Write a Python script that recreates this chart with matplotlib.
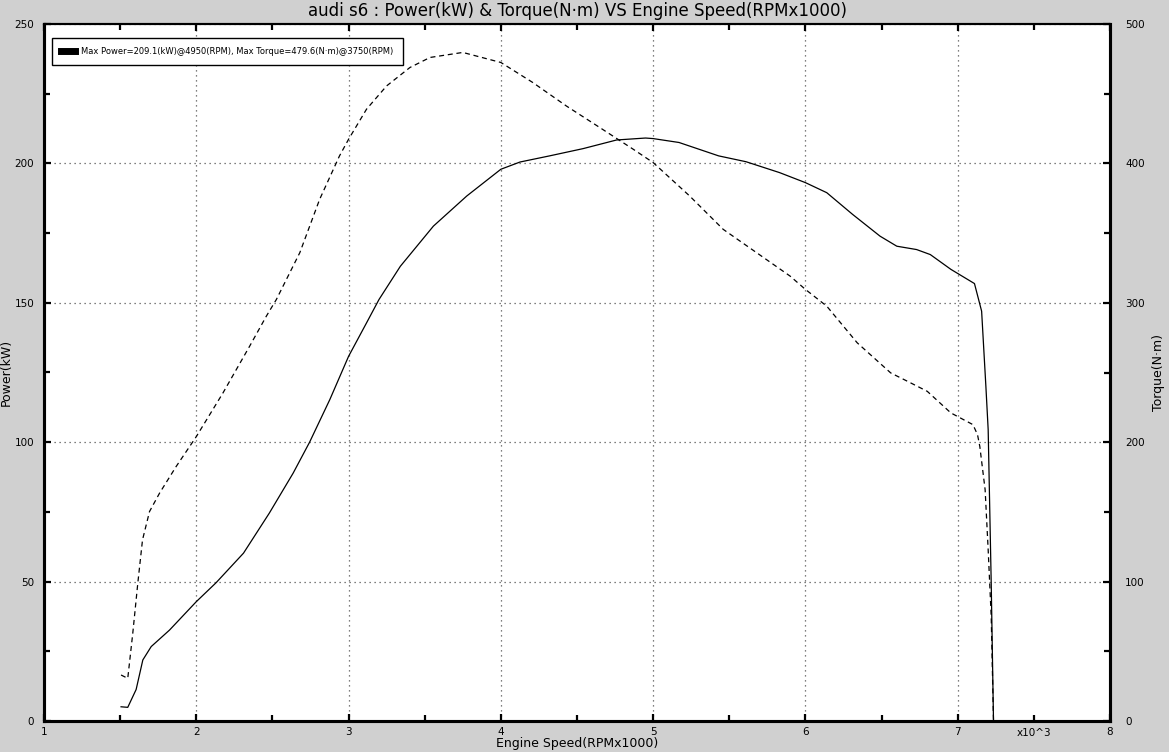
import matplotlib.pyplot as plt
from matplotlib.lines import Line2D

# engine speed (RPM x1000) and curves
rpm_power = [1.506, 1.55, 1.605, 1.649, 1.704, 1.824, 2.0, 2.13, 2.31, 2.48, 2.636, 2.744,
             2.877, 3.0, 3.118, 3.2, 3.34, 3.557, 3.776, 4.0, 4.126, 4.32, 4.54, 4.76,
             4.95, 5.0, 5.17, 5.43, 5.61, 5.83, 6.0, 6.14, 6.31, 6.49, 6.6, 6.73,
             6.82, 6.955, 7.11, 7.157, 7.185, 7.2, 7.22, 7.235]
power = [5.1, 4.9, 11.3, 21.9, 26.7, 32.6, 42.8, 49.6, 60.2, 74.6, 88.9, 100.0,
         115.3, 130.8, 142.8, 151.2, 163.1, 177.5, 188.3, 197.9, 200.5, 202.7, 205.3, 208.4,
         209.1, 208.9, 207.5, 202.7, 200.6, 196.7, 193.1, 189.5, 181.7, 173.9, 170.3, 169.1,
         167.3, 162.0, 156.9, 147.0, 120.0, 104.5, 49.4, 0.0]

rpm_torque = [1.506, 1.55, 1.583, 1.616, 1.647, 1.693, 1.759, 1.868, 2.0, 2.175, 2.35, 2.46,
              2.526, 2.68, 2.81, 2.94, 3.0, 3.118, 3.25, 3.403, 3.535, 3.75, 4.0, 4.21,
              4.43, 4.65, 4.87, 5.0, 5.24, 5.46, 5.68, 5.9, 6.0, 6.14, 6.34, 6.56,
              6.67, 6.8, 6.955, 7.1, 7.13, 7.145, 7.18, 7.2, 7.22, 7.235]
torque = [33.0, 30.6, 63.0, 98.9, 130.0, 150.3, 163.5, 182.6, 204.0, 235.3, 268.8, 290.4,
          302.4, 336.0, 374.2, 405.3, 417.3, 438.9, 455.6, 468.8, 476.0, 479.6, 472.4, 458.0,
          441.2, 425.7, 410.1, 400.6, 376.6, 352.7, 335.9, 319.1, 309.6, 297.6, 271.3, 249.7,
          243.7, 236.5, 221.0, 212.6, 205.4, 197.0, 165.9, 122.8, 74.9, 0.0]

x_ticks = [1, 2, 3, 4, 5, 6, 7, 8]
p_ticks = [0, 50, 100, 150, 200, 250]
t_ticks = [0, 100, 200, 300, 400, 500]

bg = '#d0d0d0'
fig = plt.figure(figsize=(11.69, 7.52), dpi=100, facecolor=bg)
ax = fig.add_axes([44 / 1169, 31 / 752, 1066 / 1169, 697 / 752])
ax2 = ax.twinx()

ax.plot(rpm_power, power, color='black', lw=0.9)
ax2.plot(rpm_torque, torque, color='black', lw=0.9, ls=(0, (4, 3)))

ax.set_xlim(1, 8)
ax.set_ylim(0, 250)
ax2.set_ylim(0, 500)

ax.set_xticks(x_ticks)
ax.set_xticks([1.5, 2.5, 3.5, 4.5, 5.5, 6.5, 7.5], minor=True)
ax.set_yticks(p_ticks)
ax.set_yticks([25, 75, 125, 175, 225], minor=True)
ax2.set_yticks(t_ticks)
ax2.set_yticks([50, 150, 250, 350, 450], minor=True)

ax.grid(True, which='major', color='#555555', ls=(0, (1, 3)), lw=0.9)
ax2.yaxis.grid(False)

for a in (ax, ax2):
    a.tick_params(which='major', direction='in', length=5, width=1.6, labelsize=7.5,
                  top=True)
    a.tick_params(which='minor', direction='in', length=4, width=1.6, top=True)
    for s in a.spines.values():
        s.set_linewidth(2.2)
    a.spines['top'].set_linewidth(1.5)
ax.tick_params(axis='x', pad=4)
ax.tick_params(axis='y', right=False, which='both', pad=7)
ax2.tick_params(axis='y', left=False, which='both', pad=11)

ax.text(7.5, -0.0175, 'x10^3', transform=ax.get_xaxis_transform(), ha='center', va='center',
        fontsize=7.5)

ax.set_title('audi s6 : Power(kW) & Torque(N·m) VS Engine Speed(RPMx1000)', fontsize=12, pad=6)
ax.set_xlabel('Engine Speed(RPMx1000)', fontsize=9, labelpad=0)
ax.set_ylabel('Power(kW)', fontsize=9, labelpad=1)
ax2.set_ylabel('Torque(N·m)', fontsize=9, labelpad=5)

handle = Line2D([], [], color='black', lw=5)
leg = ax.legend([handle], ['Max Power=209.1(kW)@4950(RPM), Max Torque=479.6(N·m)@3750(RPM)'],
                loc='upper left', bbox_to_anchor=(0.0075, 0.98), borderaxespad=0,
                fontsize=6, fancybox=False, framealpha=1, edgecolor='black',
                handlelength=1.7, borderpad=1.1, handletextpad=0.7)
leg.get_frame().set_linewidth(1.0)

fig.savefig('out.png', dpi=100, facecolor=bg)
